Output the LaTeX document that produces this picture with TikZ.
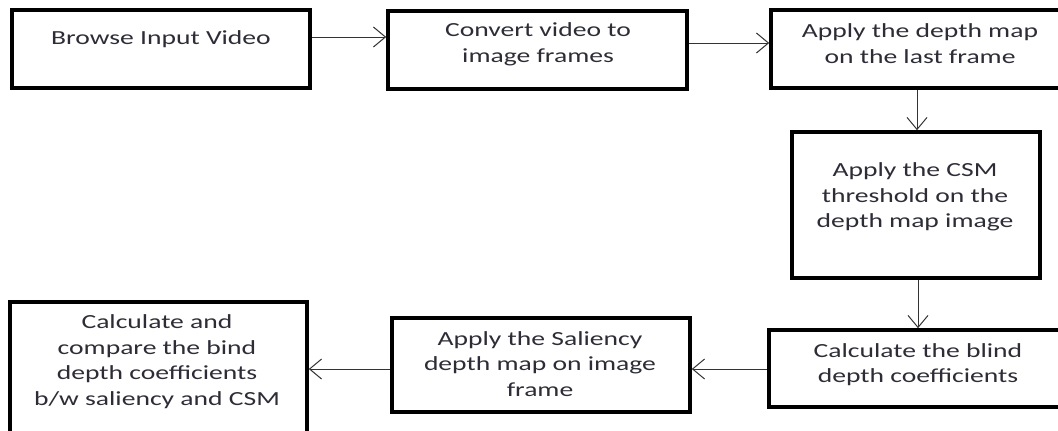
\documentclass[tikz,border=0pt]{standalone}
\usepackage{fontspec}
\setmainfont{Carlito}[FakeStretch=1.38]
\usetikzlibrary{arrows.meta}
\definecolor{ink}{RGB}{45,45,55}
\tikzset{
  stepbox/.style={draw=black, line width=3.6pt, fill=white, inner sep=0pt},
  label/.style={align=center, text=ink, inner sep=0pt,
    font=\fontsize{20}{25.5}\selectfont},
  flow/.style={draw=black!80, line width=1pt,
    -{Straight Barb[length=12pt,width=20pt,line width=1pt]}}
}
\begin{document}
\begin{tikzpicture}[x=1pt,y=-1pt]
  \useasboundingbox (0,0) rectangle (1058,431);
  \clip (0,0) rectangle (1058,431);

  % process boxes (y grows downwards)
  \node[stepbox] (b1) at (161,49) [minimum width=298pt, minimum height=78pt] {};
  \node[stepbox] (b2) at (537.5,50) [minimum width=299pt, minimum height=78pt] {};
  \node[stepbox] (b3) at (920,49) [minimum width=298pt, minimum height=78pt] {};
  \node[stepbox] (b4) at (916,205) [minimum width=248pt, minimum height=146pt] {};
  \node[stepbox] (b5) at (918,368.5) [minimum width=298pt, minimum height=77pt] {};
  \node[stepbox] (b6) at (541,365) [minimum width=298pt, minimum height=94pt] {};
  \node[stepbox] (b7) at (158.5,380) [minimum width=297pt, minimum height=156pt] {};

  % box texts
  \node[label] (t1) at (161,39) {Browse Input Video};
  \node[label] (t2) at (538,44.5) {Convert video to\\image frames};
  \node[label] (t3) at (920,43.5) {Apply the depth map\\on the last frame};
  \node[label] (t4) at (915,197) {Apply the CSM\\threshold on the\\depth map image};
  \node[label] (t5) at (918,364.5) {Calculate the blind\\depth coefficients};
  \node[label] (t6) at (540,364) {Apply the Saliency\\depth map on image\\frame};
  \node[label] (t7) at (157,361.5) {Calculate and\\compare the bind\\depth coefficients\\b/w saliency and CSM};

  % connectors
  \draw[flow] (b1.east |- 0,37) -- (b2.west |- 0,37);
  \draw[flow] (b2.east |- 0,43) -- (b3.west |- 0,43);
  \draw[flow] (b3.south -| 917,0) -- (b4.north -| 917,0);
  \draw[flow] (b4.south -| 918,0) -- (b5.north -| 918,0);
  \draw[flow] (b5.west |- 0,369) -- (b6.east |- 0,369);
  \draw[flow] (b6.west |- 0,369) -- (b7.east |- 0,369);
\end{tikzpicture}
\end{document}
